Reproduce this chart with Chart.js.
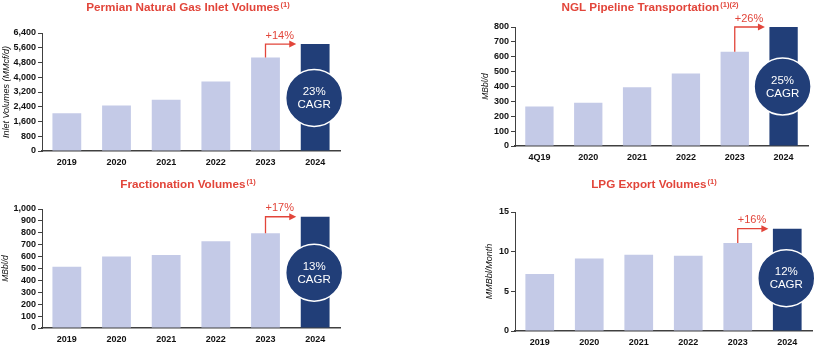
<!DOCTYPE html>
<html><head><meta charset="utf-8">
<script src="https://cdn.jsdelivr.net/npm/chart.js@4.4.0/dist/chart.umd.min.js"></script>
<style>
html,body{margin:0;padding:0;background:#fff;}
#wrap{position:relative;width:820px;height:348px;overflow:hidden;background:#fff;}
canvas{position:absolute;}
</style></head><body>
<div id="wrap">
<canvas id="c1" width="410" height="174" style="left:0;top:0"></canvas>
<canvas id="c2" width="410" height="174" style="left:410px;top:0"></canvas>
<canvas id="c3" width="410" height="174" style="left:0;top:174px"></canvas>
<canvas id="c4" width="410" height="174" style="left:410px;top:174px"></canvas>
</div>
<script>
// ---- data ----
const gasYears = ['2019','2020','2021','2022','2023','2024'];
const gasValues = [2050, 2470, 2780, 3770, 5070, 5800];
const gasTicks = [0, 800, 1600, 2400, 3200, 4000, 4800, 5600, 6400];

const nglYears = ['4Q19','2020','2021','2022','2023','2024'];
const nglValues = [265, 290, 395, 487, 633, 800];
const nglTicks = [0, 100, 200, 300, 400, 500, 600, 700, 800];

const fracYears = ['2019','2020','2021','2022','2023','2024'];
const fracValues = [515, 600, 614, 730, 797, 935];
const fracTicks = [0, 100, 200, 300, 400, 500, 600, 700, 800, 900, 1000];

const lpgYears = ['2019','2020','2021','2022','2023','2024'];
const lpgValues = [7.2, 9.15, 9.6, 9.5, 11.1, 12.9];
const lpgTicks = [0, 5, 10, 15];

const chartTitles = ['Permian Natural Gas Inlet Volumes', 'NGL Pipeline Transportation', 'Fractionation Volumes', 'LPG Export Volumes'];
const titleNotes = ['(1)', '(1)(2)', '(1)', '(1)'];
const yTitles = ['Inlet Volumes (MMcf/d)', 'MBbl/d', 'MBbl/d', 'MMBbl/Month'];
const growthLabels = ['+14%', '+26%', '+17%', '+16%'];
const cagrLabels = ['23%', '25%', '13%', '12%'];

// ---- style ----
const RED = '#e2453a';
const NAVY = '#213e78';
const LIGHT = '#c4cae7';
const AXIS = '#404040';
const FONT = '"Liberation Sans", Arial, Helvetica, sans-serif';

const annot = {
  id: 'annot',
  afterDraw(chart, args, o) {
    const ctx = chart.ctx;
    const meta = chart.getDatasetMeta(0);
    const b4 = meta.data[4], b5 = meta.data[5];
    const ca = chart.chartArea;
    ctx.save();
    // growth arrow
    ctx.strokeStyle = RED; ctx.fillStyle = RED; ctx.lineWidth = 1.3;
    const yTop = b5.y;
    const xEnd = b5.x - b5.width / 2 - 4.5;
    ctx.beginPath();
    ctx.moveTo(b4.x, b4.y);
    ctx.lineTo(b4.x, yTop);
    ctx.lineTo(xEnd - 5, yTop);
    ctx.stroke();
    ctx.beginPath();
    ctx.moveTo(xEnd, yTop);
    ctx.lineTo(xEnd - 7, yTop - 3.5);
    ctx.lineTo(xEnd - 7, yTop + 3.5);
    ctx.closePath();
    ctx.fill();
    ctx.font = '11px ' + FONT;
    ctx.textAlign = 'left'; ctx.textBaseline = 'alphabetic';
    ctx.fillText(o.growth, b4.x, yTop - 5.5);
    // CAGR circle
    const cx = b5.x - 1;
    const cy = ca.bottom - o.circleFrac * (ca.bottom - ca.top);
    ctx.beginPath();
    ctx.arc(cx, cy, 28.5, 0, Math.PI * 2);
    ctx.fillStyle = NAVY; ctx.fill();
    ctx.strokeStyle = '#ffffff'; ctx.lineWidth = 1.5; ctx.stroke();
    ctx.fillStyle = '#ffffff';
    ctx.textAlign = 'center'; ctx.textBaseline = 'middle';
    ctx.font = '11.5px ' + FONT;
    ctx.fillText(o.cagr, cx, cy - 6);
    ctx.fillText('CAGR', cx, cy + 7);
    // title
    ctx.fillStyle = RED;
    ctx.textAlign = 'left'; ctx.textBaseline = 'alphabetic';
    ctx.font = 'bold 11.7px ' + FONT;
    const w1 = ctx.measureText(o.title).width;
    ctx.font = 'bold 7.5px ' + FONT;
    const w2 = ctx.measureText(o.note).width;
    const x0 = o.titleX - (w1 + w2 + 1) / 2;
    ctx.font = 'bold 11.7px ' + FONT;
    ctx.fillText(o.title, x0, o.titleY);
    ctx.font = 'bold 7.5px ' + FONT;
    ctx.fillText(o.note, x0 + w1 + 1, o.titleY - 4.5);
    ctx.restore();
  }
};

function makeChart(id, cats, vals, ticks, idx, L) {
  const colors = vals.map((v, i) => i === vals.length - 1 ? NAVY : LIGHT);
  return new Chart(document.getElementById(id), {
    type: 'bar',
    data: { labels: cats, datasets: [{ data: vals, backgroundColor: colors, borderWidth: 0,
      categoryPercentage: 1, barPercentage: 0.58 }] },
    plugins: [annot],
    options: {
      responsive: false, animation: false, devicePixelRatio: 1,
      layout: { padding: { left: L.pl, right: 410 - L.right, top: L.top, bottom: 0 } },
      plugins: {
        legend: { display: false }, tooltip: { enabled: false },
        annot: { title: chartTitles[idx], note: titleNotes[idx], growth: growthLabels[idx], cagr: cagrLabels[idx],
          titleX: L.titleX, titleY: L.titleY, circleFrac: L.circleFrac }
      },
      scales: {
        x: {
          grid: { display: false, drawTicks: false },
          border: { display: true, color: AXIS, width: 1.5 },
          ticks: { color: '#111', padding: 6, autoSkip: false, font: { family: FONT, size: 9, weight: 'bold' }, maxRotation: 0 },
          afterFit: s => { s.height = 174 - L.bottom; }
        },
        y: {
          min: ticks[0], max: ticks[ticks.length - 1],
          afterBuildTicks: s => { s.ticks = ticks.map(v => ({ value: v })); },
          grid: { display: true, drawOnChartArea: false, drawTicks: true, tickLength: 4, color: AXIS },
          border: { display: true, color: AXIS, width: 1 },
          ticks: { color: '#111', padding: 2, autoSkip: false, font: { family: FONT, size: 9, weight: 'bold' },
            callback: v => v.toLocaleString('en-US') },
          title: { display: true, text: yTitles[idx], color: '#111', padding: { top: 1, bottom: 1 },
            font: { family: FONT, size: L.yFont, style: 'italic' } },
          afterFit: s => { s.width = L.left - L.pl; }
        }
      }
    }
  });
}

makeChart('c1', gasYears, gasValues, gasTicks, 0,
  { pl: 0, left: 42, right: 340, top: 33, bottom: 151, titleX: 188, titleY: 11, circleFrac: 0.45, yFont: 9 });
makeChart('c2', nglYears, nglValues, nglTicks, 1,
  { pl: 70, left: 105, right: 398, top: 27, bottom: 146, titleX: 240, titleY: 11, circleFrac: 0.5, yFont: 8.5 });
makeChart('c3', fracYears, fracValues, fracTicks, 2,
  { pl: 0, left: 42, right: 340, top: 35, bottom: 154, titleX: 188, titleY: 14, circleFrac: 0.465, yFont: 8.5 });
makeChart('c4', lpgYears, lpgValues, lpgTicks, 3,
  { pl: 73, left: 105, right: 402, top: 38, bottom: 157, titleX: 244, titleY: 14, circleFrac: 0.444, yFont: 9 });
</script>
</body></html>
